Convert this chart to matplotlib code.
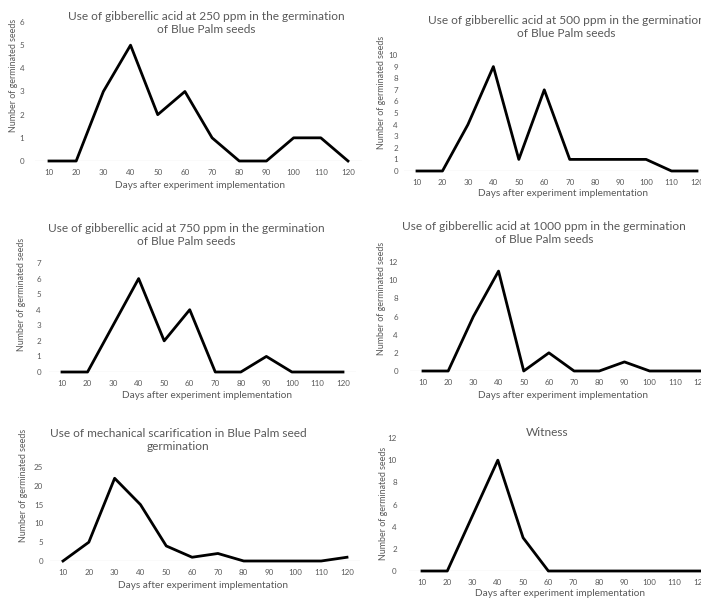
import matplotlib
matplotlib.use("Agg")
import matplotlib.pyplot as plt
import numpy as np

plt.rcParams['font.family'] = ['Lato', 'DejaVu Sans']

days = [10, 20, 30, 40, 50, 60, 70, 80, 90, 100, 110, 120]

ga_250 = [0, 0, 3, 5, 2, 3, 1, 0, 0, 1, 1, 0]
ga_500 = [0, 0, 4, 9, 1, 7, 1, 1, 1, 1, 0, 0]
ga_750 = [0, 0, 3, 6, 2, 4, 0, 0, 1, 0, 0, 0]
ga_1000 = [0, 0, 6, 11, 0, 2, 0, 0, 1, 0, 0, 0]
mechanical = [0, 5, 22, 15, 4, 1, 2, 0, 0, 0, 0, 1]
witness = [0, 0, 5, 10, 3, 0, 0, 0, 0, 0, 0, 0]

titles = [
    "Use of gibberellic acid at 250 ppm in the germination\nof Blue Palm seeds",
    "Use of gibberellic acid at 500 ppm in the germination\nof Blue Palm seeds",
    "Use of gibberellic acid at 750 ppm in the germination\nof Blue Palm seeds",
    "Use of gibberellic acid at 1000 ppm in the germination\nof Blue Palm seeds",
    "Use of mechanical scarification in Blue Palm seed\ngermination",
    "Witness",
]
y_label = "Number of germinated seeds"
x_label = "Days after experiment implementation"
y_max = [6, 10, 7, 12, 25, 12]
y_step = [1, 1, 1, 2, 5, 2]
series = [ga_250, ga_500, ga_750, ga_1000, mechanical, witness]

# pixel layout: x of day 10, x of day 120, y of zero, y of top tick,
# title (x, y), xlabel (x, y), ylabel (x, y), tick pad
layout = [
    (49, 348, 161, 22, (206, 23), (200, 185), (13, 75), 8),
    (417, 697, 171, 55, (566, 27), (563, 194), (382, 92), 4.5),
    (62, 343, 372, 263, (186, 235), (207, 395), (22, 294), 6),
    (423, 700, 371, 262, (544, 233), (563, 395), (381, 298), 9),
    (63, 347, 561, 467, (178, 440), (203, 585), (24, 485), 5),
    (422, 700, 571, 438, (547, 433), (560, 594), (384, 503), 9),
]

W, H = 701, 600
fig = plt.figure(figsize=(W / 100, H / 100), dpi=100)
text_col = "#595959"

for vals, title, ym, ys, lay in zip(series, titles, y_max, y_step, layout):
    x0, x1, yb, yt, tpos, xlpos, ylpos, pad = lay
    step = (x1 - x0) / 11
    left = x0 - step / 2
    right = x1 + step / 2
    ax = fig.add_axes([left / W, 1 - yb / H, (right - left) / W, (yb - yt) / H])
    ax.set_xlim(5, 125)
    ax.set_ylim(0, ym)
    ax.patch.set_alpha(0)
    ax.axhline(0, color="#d9d9d9", lw=0.9, zorder=1)
    ax.plot(days, vals, color="black", lw=2.0, zorder=3, clip_on=False)
    for s in ax.spines.values():
        s.set_visible(False)
    ax.set_xticks(days)
    ax.set_yticks(np.arange(0, ym + 1, ys))
    ax.tick_params(length=0, labelsize=5.8, colors=text_col, pad=pad)
    ax.tick_params(axis="x", pad=6)
    fig.text(tpos[0] / W, 1 - tpos[1] / H, title, ha="center", va="center",
             fontsize=8.6, color=text_col, linespacing=1.3)
    fig.text(xlpos[0] / W, 1 - xlpos[1] / H, x_label, ha="center", va="center",
             fontsize=7.2, color=text_col)
    fig.text(ylpos[0] / W, 1 - ylpos[1] / H, y_label, ha="center", va="center",
             rotation=90, fontsize=6.4, color=text_col)

fig.savefig("out.png", dpi=100)
